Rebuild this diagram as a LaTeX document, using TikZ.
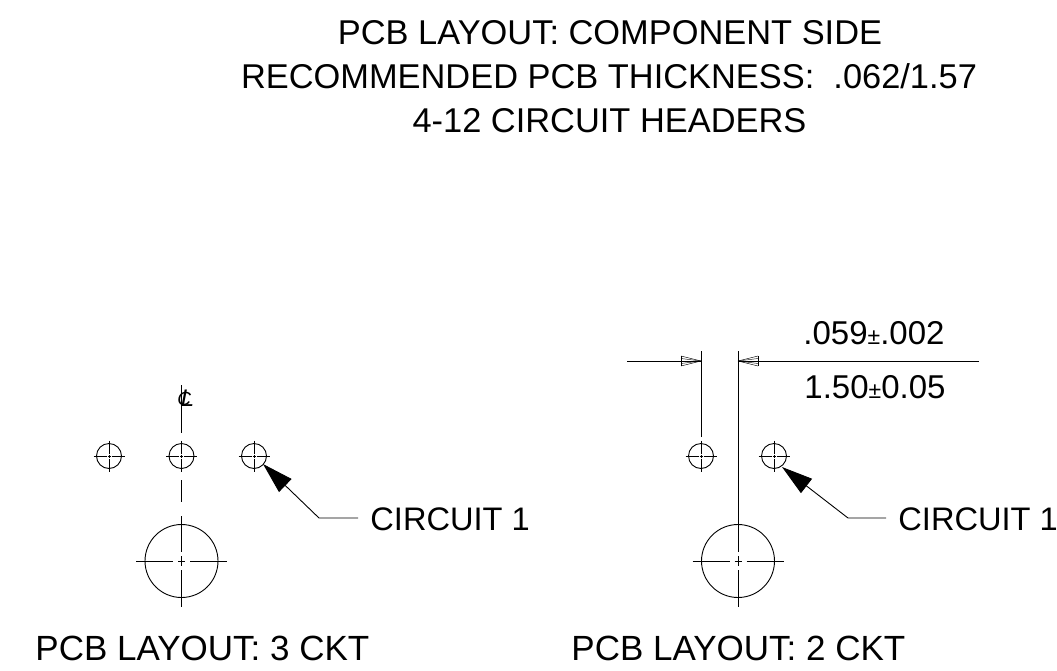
\documentclass[tikz,border=0pt]{standalone}
\usepackage{fontspec}
\setmainfont{Liberation Sans}
\usetikzlibrary{arrows.meta}

\tikzset{
  title text/.style={inner sep=0pt, anchor=base, font=\fontsize{34.4}{34.4}\selectfont},
  caption text/.style={inner sep=0pt, anchor=base west, font=\fontsize{35}{35}\selectfont},
  label text/.style={inner sep=0pt, anchor=base west, font=\fontsize{32.6}{32.6}\selectfont},
  dim text/.style={inner sep=0pt, anchor=base west, font=\fontsize{33}{33}\selectfont},
  small hole/.style={circle, draw, minimum size=25pt, inner sep=0pt},
  big hole/.style={circle, draw, minimum size=73pt, inner sep=0pt},
  leader/.style={-{Triangle[length=31pt,width=18pt]}, shorten >=0pt}
}
\newcommand{\plusminus}{{\fontsize{23}{23}\selectfont\itshape\textpm}}

\begin{document}
\begin{tikzpicture}[x=1pt,y=-1pt,line width=0.9pt]
   \useasboundingbox (0,0) rectangle (1057,670);
   % title
   \node[title text] (title1) at (610,44) {PCB LAYOUT: COMPONENT SIDE};
   \node[title text] (title2) at (609,88) {RECOMMENDED PCB THICKNESS:\ \ .062/1.57};
   \node[title text] (title3) at (609.5,132) {4-12 CIRCUIT HEADERS};
   % 3 ckt
   \node[small hole] (a1) at (109,456) {};
   \node[small hole] (a2) at (181.5,456) {};
   \node[small hole] (a3) at (254,456) {};
   \node[big hole] (a4) at (181.5,561) {};
   \node[label text] (a5) at (370,530) {CIRCUIT 1};
   \node[caption text] (a6) at (35,660) {PCB LAYOUT: 3 CKT};
   \node[font=\fontsize{24}{24}\selectfont\itshape, inner sep=0pt, anchor=base west] (cl) at (177,406) {\rlap{\raisebox{1pt}{\fontsize{19}{19}\selectfont C}}\hspace{3.5pt}L};
   \coordinate (a9) at (358,518);
   \coordinate (a7) at (319,518);
   \coordinate (a8) at (263,464);
   \draw[leader] (a9) -- (a7) -- (a8);
   % 2 ckt
   \node[small hole] (b1) at (701,456) {};
   \node[small hole] (b2) at (774,456) {};
   \node[big hole] (b3) at (738,561) {};
   \node[label text] (b4) at (898,530) {CIRCUIT 1};
   \node[caption text] (b5) at (571,660) {PCB LAYOUT: 2 CKT};
   \node[dim text] (b6) at (803,344) {.059\plusminus.002};
   \node[dim text] (b7) at (804,398) {1.50\plusminus0.05};
   \coordinate (b10) at (886,518);
   \coordinate (b8) at (848,518);
   \coordinate (b9) at (782,467);
   \draw[leader] (b10) -- (b8) -- (b9);
   % centre marks
   \foreach \n in {a1,a2,a3,b1,b2} {
     \draw (\n.center) ++(-15.5,0) -- ++(13,0) ++(1,0) -- ++(3,0) ++(1,0) -- ++(13,0);
     \draw (\n.center) ++(0,-15.5) -- ++(0,13) ++(0,1) -- ++(0,3) ++(0,1) -- ++(0,13);
   }
   \foreach \n in {a4,b3} {
     \draw (\n.center) ++(-45.5,0) -- ++(37,0) ++(5,0) -- ++(7,0) ++(5,0) -- ++(37,0);
     \draw (\n.center) ++(0,-5) -- ++(0,10);
   }
   % centre lines
   \draw (181.5,385) -- (181.5,433);
   \draw (181.5,480) -- (181.5,502);
   \draw (181.5,516) -- (181.5,552);
   \draw (181.5,570) -- (181.5,607);
   \draw (701,437) -- (701,351);
   \draw (738,351) -- (738,552);
   \draw (738,570) -- (738,607);
   % dimension
   \coordinate (d1) at (627,361);
   \coordinate (d2) at (701,361);
   \coordinate (d3) at (979,361);
   \coordinate (d4) at (738,361);
   \draw (d1) -- (d2);
   \draw (d3) -- (d4);
   \foreach \k in {-5,-2.5,...,5} {
     \draw[line width=0.4pt] (d2) -- ++(-20,\k);
     \draw[line width=0.4pt] (d4) -- ++(20,\k);
   }
   \draw[line width=0.4pt] (d2) ++(-20,-5) -- ++(0,10);
   \draw[line width=0.4pt] (d4) ++(20,-5) -- ++(0,10);
\end{tikzpicture}
\end{document}
